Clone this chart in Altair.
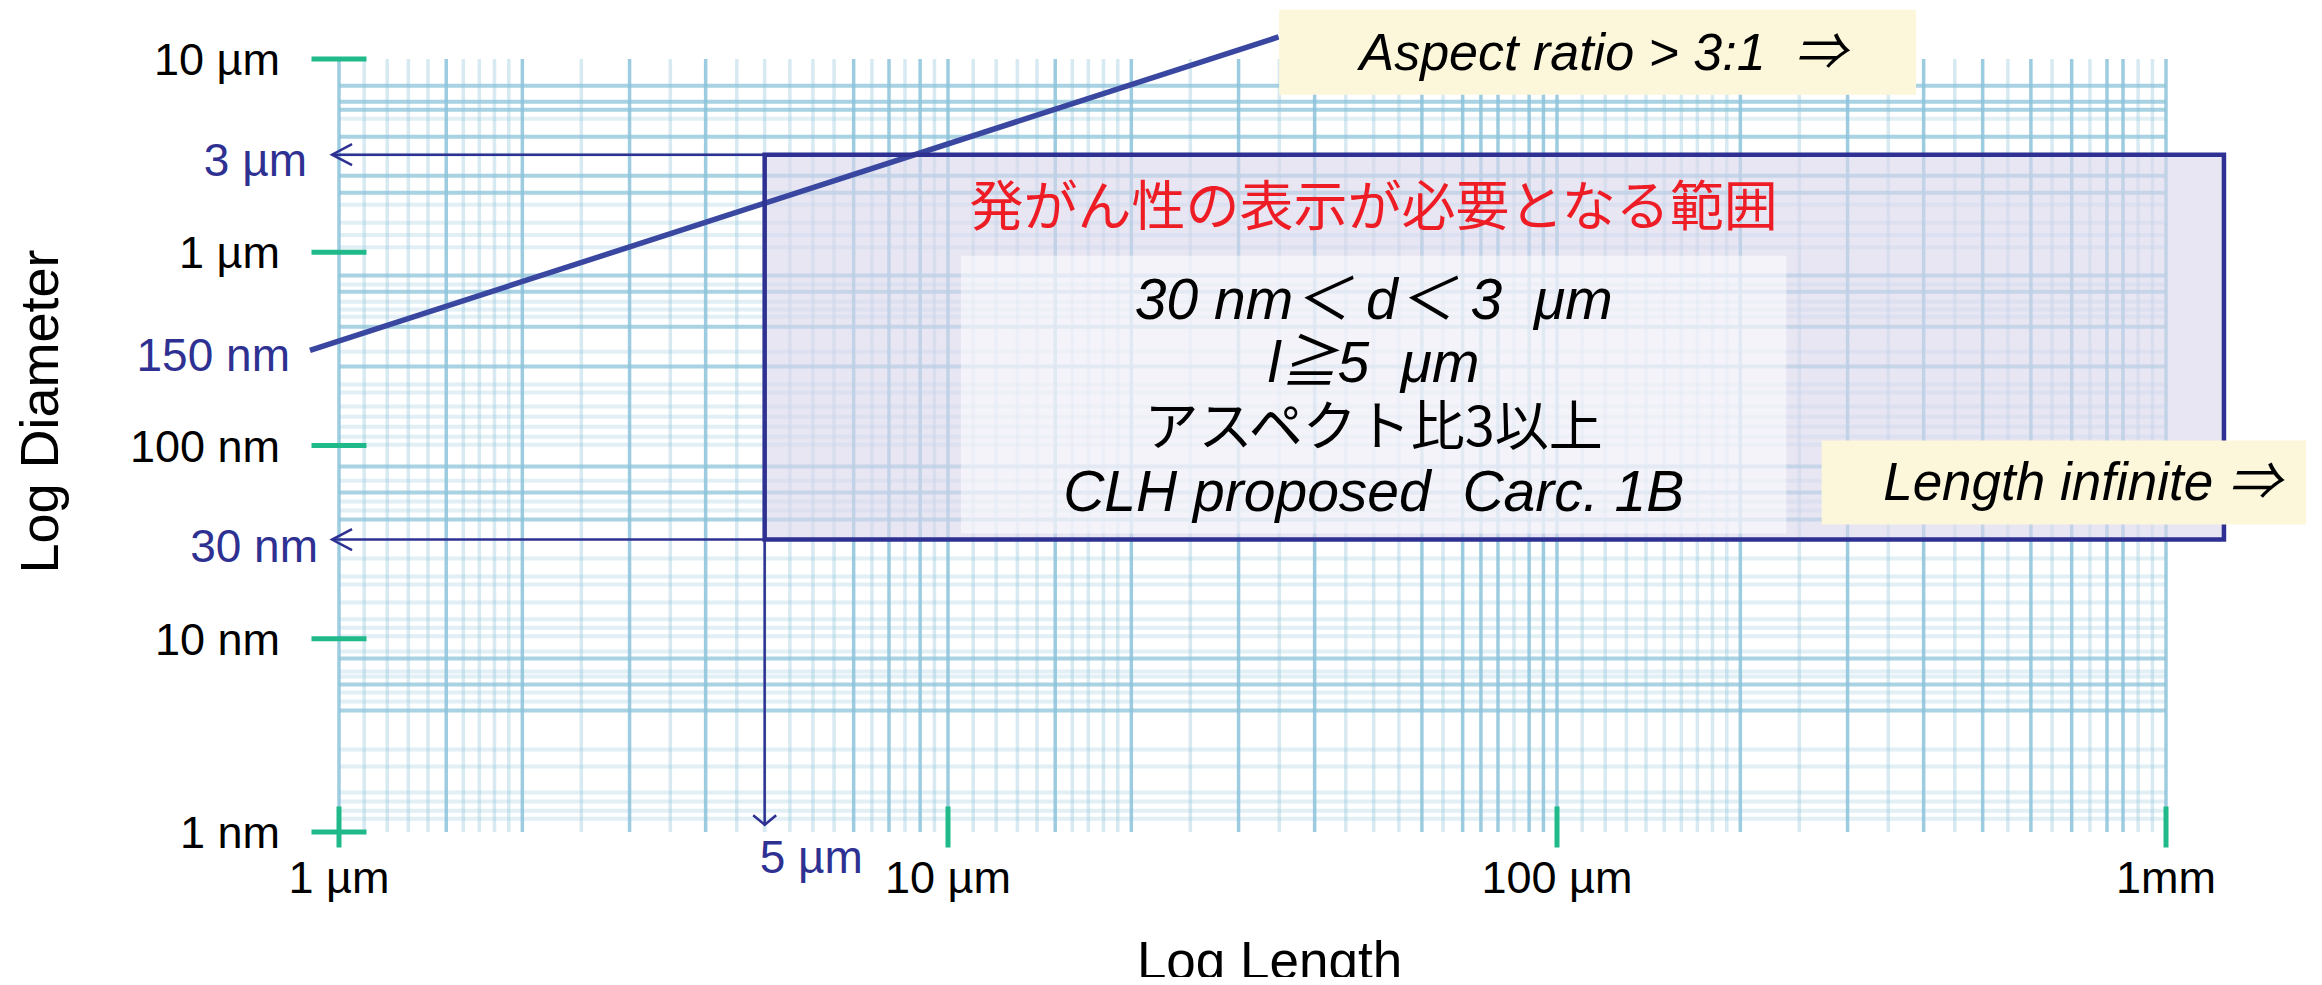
import altair as alt
import pandas as pd

# ---------------- data ----------------
# axis ticks (length in µm, diameter in µm)
x_tick_vals = [1, 10, 100, 1000]
x_tick_text = ["1 µm", "10 µm", "100 µm", "1mm"]
y_tick_vals = [10, 1, 0.1, 0.01, 0.001]
y_tick_text = ["10 µm", "1 µm", "100 nm", "10 nm", "1 nm"]

# graph-paper lines (vertical: length µm, horizontal: diameter µm)
grid_x_strong = [1, 1.5, 2, 3, 4, 7, 8, 9, 10, 15, 20, 30, 40, 60, 70, 75, 80, 90, 95,
                 100, 200, 300, 400, 500, 600, 700, 800, 850, 1000]
grid_x_light = [1.1, 1.2, 1.3, 1.4, 1.6, 1.7, 1.8, 1.9, 2.5, 3.5, 4.5, 5, 5.5, 6, 6.5, 7.5,
                8.5, 9.5, 11, 12, 13, 14, 16, 17, 18, 19, 25, 35, 45, 50, 55, 65, 85,
                110, 120, 130, 140, 150, 160, 170, 180, 190, 250, 350, 450, 550, 650,
                750, 900, 950]
grid_y_strong = [7.28, 6.01, 5.47, 3.96, 2.49, 2.03, 0.757, 0.625, 0.412, 0.256, 0.0778,
                 0.0571, 0.0414, 0.00790, 0.00580, 0.00425]
grid_y_light = [4.91, 3.20, 1.76, 1.42, 1.23, 1.06, 0.680, 0.555, 0.505, 0.464, 0.306,
                0.207, 0.188, 0.159, 0.141, 0.125, 0.111, 0.101, 0.0658, 0.0513, 0.0461,
                0.0260, 0.0210, 0.0191, 0.0154, 0.0126, 0.0114, 0.0103, 0.00859, 0.00677,
                0.00637, 0.00527, 0.00473, 0.00267, 0.00218, 0.00160, 0.00144, 0.00129,
                0.00117]

# aspect ratio 3:1 line
ratio_L = [0.896, 34.9]
ratio_d = [0.311, 13.0]

# carcinogenic classification region
region_L = [5, 1245]
region_d = [0.0326, 3.2]
inner_L = [10.5, 238]
inner_d = [0.0350, 0.960]

# reference arrows
arrow_h_d = [3.2, 0.0326]
arrow_h_L = [5, 0.974]
arrow_v_L = [5]
arrow_v_d = [0.0326, 0.00109]

# callout boxes
aspect_box_L = [34.97, 388.6]
aspect_box_d = [6.54, 18.0]
length_box_L = [272, 1803]
length_box_d = [0.0390, 0.106]

region_title = "発がん性の表示が必要となる範囲"
region_title_pos = (50, 1.66)
region_lines = ["30\u00a0nm＜\u00a0d＜\u00a03\u00a0\u00a0μm", "l≧5\u00a0\u00a0μm",
                "アスペクト比3以上", "CLH\u00a0proposed\u00a0\u00a0Carc.\u00a01B"]
region_lines_d = [0.555, 0.262, 0.121, 0.0564]

# ---------------- styling ----------------
NAVY = "#2e3192"
LINE_BLUE = "#3a47a0"
GREEN = "#1fb98a"
GRID = "#8cc3da"
FONT = "Liberation Sans, Arial, DejaVu Sans"
MIXED = "Liberation Sans, Noto Sans CJK JP"
CJK = "Noto Sans CJK JP"

xs = alt.Scale(type="log", domain=[1, 1000], nice=False)
ys = alt.Scale(type="log", domain=[0.001, 10], nice=False)

X = alt.X("L:Q", scale=xs, axis=alt.Axis(
    title="Log Length", labels=False, ticks=False, domain=False, grid=False,
    titleFont=FONT, titleFontSize=53, titleFontWeight="normal", titleColor="black",
    titleX=930, titleY=130, titleAlign="center", titleBaseline="middle"))
Y = alt.Y("d:Q", scale=ys, axis=alt.Axis(
    title="Log Diameter", labels=False, ticks=False, domain=False, grid=False,
    titleFont=FONT, titleFontSize=54, titleFontWeight="normal", titleColor="black",
    titleX=-298, titleY=352, titleAngle=270, titleAlign="center", titleBaseline="middle"))
X2 = alt.X2("L2:Q")
Y2 = alt.Y2("d2:Q")

layers = []

# grid
layers.append(alt.Chart(pd.DataFrame({"L": grid_x_light})).mark_rule(
    color=GRID, opacity=0.35, strokeWidth=3.5).encode(x=X))
layers.append(alt.Chart(pd.DataFrame({"L": grid_x_strong})).mark_rule(
    color=GRID, opacity=0.85, strokeWidth=3.5).encode(x=X))
layers.append(alt.Chart(pd.DataFrame({"d": grid_y_light})).mark_rule(
    color=GRID, opacity=0.25, strokeWidth=4).encode(y=Y))
layers.append(alt.Chart(pd.DataFrame({"d": grid_y_strong})).mark_rule(
    color=GRID, opacity=0.75, strokeWidth=4).encode(y=Y))

# region box fill
region_df = pd.DataFrame({"L": [region_L[0]], "L2": [region_L[1]],
                          "d": [region_d[0]], "d2": [region_d[1]]})
layers.append(alt.Chart(region_df).mark_rect(color="#dad7eb", opacity=0.62).encode(
    x=X, x2=X2, y=Y, y2=Y2))
inner_df = pd.DataFrame({"L": [inner_L[0]], "L2": [inner_L[1]],
                         "d": [inner_d[0]], "d2": [inner_d[1]]})
layers.append(alt.Chart(inner_df).mark_rect(color="white", opacity=0.5).encode(
    x=X, x2=X2, y=Y, y2=Y2))

# aspect ratio line
layers.append(alt.Chart(pd.DataFrame({"L": ratio_L, "d": ratio_d})).mark_line(
    color=LINE_BLUE, strokeWidth=5.5).encode(x=X, y=Y))

# region box outline
layers.append(alt.Chart(region_df).mark_rect(
    filled=False, stroke=NAVY, strokeWidth=4.5, fillOpacity=0).encode(
    x=X, x2=X2, y=Y, y2=Y2))

# arrows
harrow = pd.DataFrame({"L": [arrow_h_L[1]] * 2, "L2": [arrow_h_L[0]] * 2, "d": arrow_h_d})
layers.append(alt.Chart(harrow).mark_rule(color=NAVY, strokeWidth=2.5).encode(
    x=X, x2=X2, y=Y))
layers.append(alt.Chart(harrow).mark_point(
    shape="M2,-1.05L0,0L2,1.05", size=400, filled=False, color=NAVY,
    strokeWidth=2.5, opacity=1).encode(x=X, y=Y))
varrow = pd.DataFrame({"L": arrow_v_L, "d": [arrow_v_d[1]], "d2": [arrow_v_d[0]]})
layers.append(alt.Chart(varrow).mark_rule(color=NAVY, strokeWidth=2.5).encode(
    x=X, y=Y, y2=Y2))
layers.append(alt.Chart(varrow).mark_point(
    shape="M-1.15,-0.95L0,0L1.15,-0.95", size=400, filled=False, color=NAVY,
    strokeWidth=2.5, opacity=1).encode(x=X, y=Y))

# green ticks
ytk = pd.DataFrame({"L": [1] * len(y_tick_vals), "d": y_tick_vals, "t": y_tick_text})
xtk = pd.DataFrame({"L": x_tick_vals, "d": [0.001] * len(x_tick_vals), "t": x_tick_text})
layers.append(alt.Chart(ytk).mark_tick(orient="horizontal", size=55, thickness=5,
                                        color=GREEN, opacity=1).encode(x=X, y=Y))
layers.append(alt.Chart(xtk).mark_tick(orient="vertical", size=41, thickness=5,
                                        color=GREEN, opacity=1, yOffset=-5)
              .encode(x=X, y=Y))

# tick labels
layers.append(alt.Chart(ytk).mark_text(font=FONT, fontSize=45, color="black",
                                        align="right", baseline="middle", dx=-59, dy=2)
              .encode(x=X, y=Y, text="t:N"))
layers.append(alt.Chart(xtk).mark_text(font=FONT, fontSize=45, color="black",
                                        align="center", baseline="middle", dy=47)
              .encode(x=X, y=Y, text="t:N"))

# blue reference labels
blue = [
    ("3 µm", 1, arrow_h_d[0], -32, 7, "right"),
    ("30 nm", 1, arrow_h_d[1], -21, 8, "right"),
    ("150 nm", ratio_L[0], ratio_d[0], -20, 7, "right"),
    ("5 µm", arrow_v_L[0], 0.001, -5, 27, "left"),
]
for t, lv, dv, dx, dy, al in blue:
    layers.append(alt.Chart(pd.DataFrame({"L": [lv], "d": [dv], "t": [t]})).mark_text(
        font=FONT, fontSize=46, color=NAVY, align=al, baseline="middle", dx=dx, dy=dy)
        .encode(x=X, y=Y, text="t:N"))

# region texts
layers.append(alt.Chart(pd.DataFrame({"L": [region_title_pos[0]], "d": [region_title_pos[1]],
                                      "t": [region_title]}))
              .mark_text(font=CJK, fontSize=54, color="#ee1c25", align="center",
                         baseline="middle").encode(x=X, y=Y, text="t:N"))
for i, (t, dv) in enumerate(zip(region_lines, region_lines_d)):
    if i == 2:
        mk = dict(font=CJK, fontSize=54, fontStyle="normal")
    else:
        mk = dict(font=MIXED, fontSize=57, fontStyle="italic")
    layers.append(alt.Chart(pd.DataFrame({"L": [50], "d": [dv], "t": [t]}))
                  .mark_text(color="black", align="center", baseline="middle", **mk)
                  .encode(x=X, y=Y, text="t:N"))

# callout boxes
ab = pd.DataFrame({"L": [aspect_box_L[0]], "L2": [aspect_box_L[1]],
                   "d": [aspect_box_d[0]], "d2": [aspect_box_d[1]]})
lb = pd.DataFrame({"L": [length_box_L[0]], "L2": [length_box_L[1]],
                   "d": [length_box_d[0]], "d2": [length_box_d[1]]})
for b in (ab, lb):
    layers.append(alt.Chart(b).mark_rect(color="#fcf6da", opacity=1).encode(
        x=X, x2=X2, y=Y, y2=Y2))
layers.append(alt.Chart(pd.DataFrame({"L": [119], "d": [10.65],
                                      "t": ["Aspect ratio > 3:1\u00a0\u00a0⇒"]}))
              .mark_text(font=MIXED, fontSize=52, fontStyle="italic", color="black",
                         align="center", baseline="middle").encode(x=X, y=Y, text="t:N"))
layers.append(alt.Chart(pd.DataFrame({"L": [728], "d": [0.0635],
                                      "t": ["Length infinite ⇒"]}))
              .mark_text(font=MIXED, fontSize=53, fontStyle="italic", color="black",
                         align="center", baseline="middle").encode(x=X, y=Y, text="t:N"))

chart = alt.layer(*layers).properties(
    width=1827, height=773,
    padding={"left": 331, "top": 51, "right": 140, "bottom": 145},
    autosize=alt.AutoSizeParams(type="none"),
    background="white",
).configure_view(strokeWidth=0)

chart.save("out.html", embed_options={"renderer": "svg", "actions": False})
